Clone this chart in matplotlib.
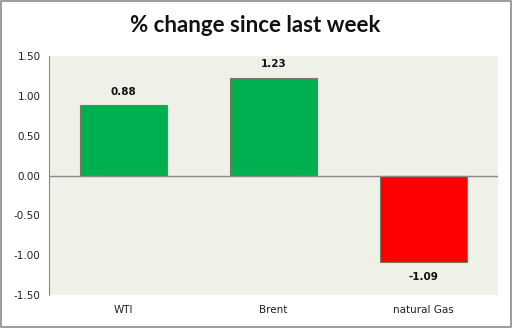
import matplotlib
matplotlib.use('Agg')
from matplotlib import pyplot as plt
from matplotlib.patches import Rectangle

# Data
categories = ['WTI', 'Brent', 'natural Gas']
changes = [0.88, 1.23, -1.09]
bar_colors = ['#00B050', '#00B050', '#FF0000']
yticks = [-1.5, -1.0, -0.5, 0.0, 0.5, 1.0, 1.5]

fig = plt.figure(figsize=(5.14, 3.29), dpi=100)
ax = fig.add_axes([49 / 514, 1 - 295 / 329, 449 / 514, 239 / 329])

# outer chart border
fig.patches.append(Rectangle((0.002, 0.006), 0.993, 0.99, transform=fig.transFigure,
                             fill=False, edgecolor='#8c8c8c', linewidth=1.2))

ax.set_facecolor('#EFF1E9')
x = range(len(categories))
ax.bar(x, changes, width=0.58, color=bar_colors, edgecolor='#7a7a5c', linewidth=0.8, zorder=2)
ax.axhline(0, color='#8a8a8a', linewidth=1, zorder=3)

for i, v in enumerate(changes):
    off = 0.165 if v > 0 else -0.19
    ax.text(i, v + off, f'{v:.2f}', ha='center', va='center', fontsize=7.5,
            fontweight='bold', color='#111111')

ax.set_xlim(-0.5, len(categories) - 0.5)
ax.set_ylim(-1.5, 1.5)
ax.set_yticks(yticks)
ax.set_yticklabels([f'{t:.2f}' for t in yticks], fontsize=7.5, color='#222222')
ax.set_xticks(list(x))
ax.set_xticklabels(categories, fontsize=7.5, color='#222222')
ax.tick_params(axis='both', length=0, pad=6)
ax.tick_params(axis='x', pad=7)
for s in ['top', 'right', 'bottom']:
    ax.spines[s].set_visible(False)
ax.spines['left'].set_color('#8a8a8a')

fig.text(0.497, 0.922, '% change since last week', ha='center', va='center',
         fontsize=16, fontweight='bold', family='Lato', color='#111111')

fig.savefig('out.png', dpi=100)
